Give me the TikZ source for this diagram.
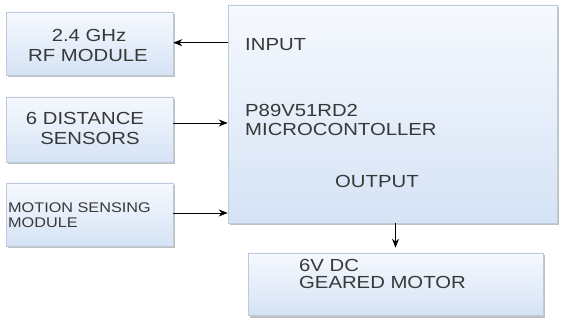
\documentclass[tikz,border=0pt]{standalone}
\usepackage{fontspec}
\setmainfont{Liberation Sans}[FakeStretch=1.16]
\usetikzlibrary{shadows,arrows.meta}
\definecolor{boxtop}{HTML}{F6F9FE}
\definecolor{boxbot}{HTML}{D5E3F5}
\definecolor{boxline}{HTML}{BCCADC}
\definecolor{txt}{HTML}{383838}
\tikzset{
  blk/.style={draw=boxline, line width=0.6pt, top color=boxtop, bottom color=boxbot,
    middle color=boxbot!50!boxtop, shading angle=0,
    drop shadow={shadow xshift=2pt, shadow yshift=-2.5pt, opacity=0.4, fill=black!60},
    inner sep=0pt},
  lbl/.style={text=txt, font=\fontsize{17.5}{19}\selectfont, inner sep=0pt},
  slbl/.style={text=txt, font=\fontsize{14}{15}\selectfont, inner sep=0pt},
  arr/.style={-{Stealth[length=9pt,width=7pt]}, line width=0.8pt, black}
}
\begin{document}
\begin{tikzpicture}[x=1pt,y=-1pt]
\useasboundingbox[fill=white] (0,0) rectangle (562,320);
% boxes
\node[blk, minimum width=167pt, minimum height=63pt] (rf) at (89.5,43.5) {};
\node[blk, minimum width=167pt, minimum height=65pt] (dist) at (89.5,129.5) {};
\node[blk, minimum width=167pt, minimum height=63pt] (mot) at (89.5,214.5) {};
\node[blk, minimum width=329pt, minimum height=218pt] (main) at (392.5,114) {};
\node[blk, minimum width=295pt, minimum height=62pt] (motor) at (395.5,284) {};
% texts
\node[lbl, anchor=base] (t1) at (89,42) {2.4 GHz};
\node[lbl, anchor=base] (t2) at (88,62) {RF MODULE};
\node[lbl, anchor=base] (t3) at (85,125) {6 DISTANCE};
\node[lbl, anchor=base] (t4) at (90,145) {SENSORS};
\node[slbl, anchor=base west] (t5) at (8,213) {MOTION SENSING};
\node[slbl, anchor=base west] (t6) at (8,228) {MODULE};
\node[lbl, anchor=base west] (t7) at (245,51) {INPUT};
\node[lbl, anchor=base west] (t8) at (245,117) {P89V51RD2};
\node[lbl, anchor=base west] (t9) at (245,136) {MICROCONTOLLER};
\node[lbl, anchor=base west] (t10) at (335,188) {OUTPUT};
\node[lbl, anchor=base west] (t11) at (299,272) {6V DC};
\node[lbl, anchor=base west] (t12) at (299,288) {GEARED MOTOR};
% connectors
\draw[arr] ([yshift=0.8pt]main.west |- rf.east) -- ([yshift=0.8pt]rf.east);
\draw[arr] ([yshift=6.5pt]dist.east) -- ([yshift=6.5pt]dist.east -| main.west);
\draw[arr] ([yshift=1.5pt]mot.east) -- ([yshift=1.5pt]mot.east -| main.west);
\draw[arr] (main.south -| motor.north) -- ([yshift=5pt]motor.north);
\end{tikzpicture}
\end{document}
